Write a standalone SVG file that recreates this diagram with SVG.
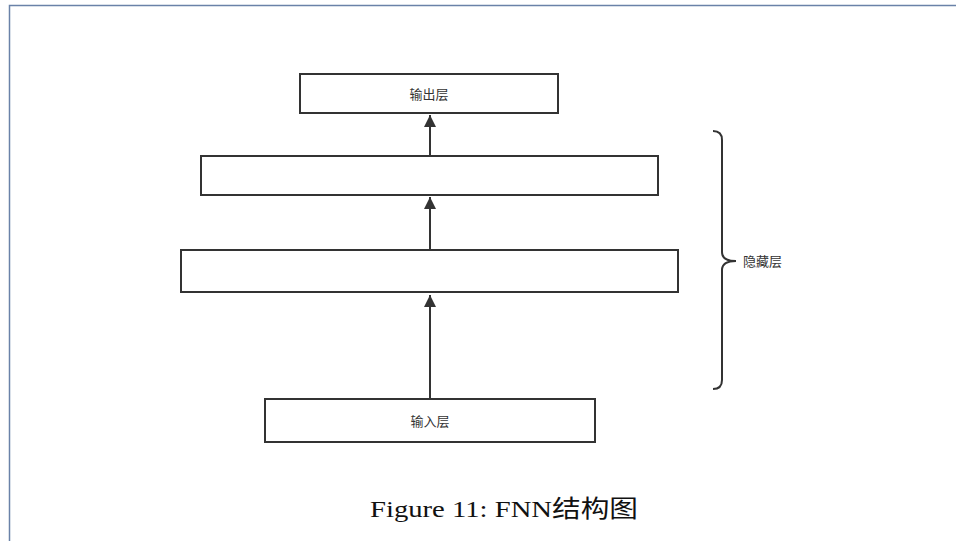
<svg xmlns="http://www.w3.org/2000/svg" width="956" height="541" viewBox="0 0 956 541">
<style>
.box{fill:#fff;stroke:#333;stroke-width:2}
.lbl{font-family:"Liberation Sans","Noto Sans CJK SC",sans-serif;font-size:13px;fill:#333;text-anchor:middle;dominant-baseline:central}
.edge{stroke:#333;stroke-width:2;fill:none}
</style>
<defs>
<marker id="ah" markerWidth="12" markerHeight="16" refX="12" refY="6" orient="auto" markerUnits="userSpaceOnUse">
<path d="M0,0 L12,6 L0,12 Z" fill="#333"/>
</marker>
</defs>
<rect width="956" height="541" fill="#fff"/>
<path d="M956,5.5 H9.5 V541" fill="none" stroke="#6a82a8" stroke-width="1.5"/>
<g id="output"><rect class="box" x="300" y="74" width="258" height="39"/><text class="lbl" x="429" y="94">输出层</text></g>
<g id="hidden2"><rect class="box" x="201" y="156" width="457" height="39"/></g>
<g id="hidden1"><rect class="box" x="181" y="250" width="497" height="42"/></g>
<g id="input"><rect class="box" x="265" y="399" width="330" height="43"/><text class="lbl" x="430" y="421">输入层</text></g>
<g id="connectors">
<line class="edge" x1="430" y1="399" x2="430" y2="295" marker-end="url(#ah)"/>
<line class="edge" x1="430" y1="250" x2="430" y2="197" marker-end="url(#ah)"/>
<line class="edge" x1="430" y1="156" x2="430" y2="115" marker-end="url(#ah)"/>
</g>
<g id="brace">
<path class="edge" d="M713,131 Q722,131 722,140 V252 Q722,261 736,261 Q722,261 722,270 V380 Q722,389 713,389"/>
<text x="743" y="261" style="font-family:'Liberation Sans','Noto Sans CJK SC',sans-serif;font-size:13px;fill:#333;dominant-baseline:central">隐藏层</text>
</g>
<text x="370" y="517" textLength="268" lengthAdjust="spacingAndGlyphs" style="font-family:'Liberation Serif','Noto Sans CJK SC',serif;font-size:24px;fill:#111">Figure 11: FNN结构图</text>
</svg>
